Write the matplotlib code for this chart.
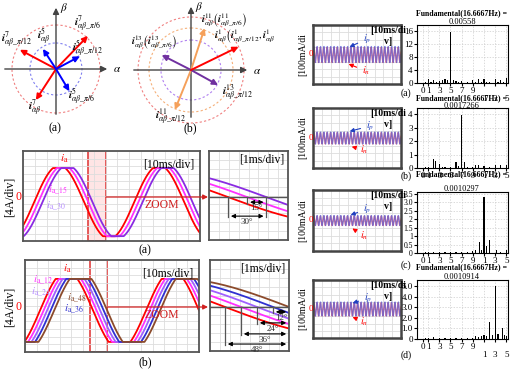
import numpy as np
import matplotlib
matplotlib.use("Agg")
import matplotlib.pyplot as plt
from matplotlib.patches import Circle, Rectangle

plt.rcParams['font.family'] = ['Liberation Serif', 'DejaVu Serif']
plt.rcParams['mathtext.fontset'] = 'stix'

W, H = 515, 372

# phasor diagram (a): angle (deg), length (px), colour
vec_a_ang = [46, 152, 237, 123, 28, -59]
vec_a_len = [46, 41, 37, 24, 27, 26]
vec_a_col = ['red', 'red', 'red', 'blue', 'blue', 'blue']
circ_a_r = [44, 26]
circ_a_col = ['#f08080', '#8080f0']

# phasor diagram (b)
vec_b_ang = [72, 248, 153, -29, 26]
vec_b_len = [44, 43, 33, 31, 53]
vec_b_col = ['#f5a05a', '#f5a05a', '#7030a0', '#7030a0', 'red']
circ_b_r = [53, 42, 30]
circ_b_col = ['#f08080', '#f5b07a', '#b080f0']

# time waveforms: phase lag (deg) of each current
shift_a = [0, 15, 30]
col_a = ['red', '#ff30ff', '#8a2be2']
shift_b = [0, 12, 24, 36, 48]
col_b = ['red', '#ff30ff', '#a060ff', '#3030d0', '#8b4a2b']

# ripple patterns of the right-hand traces (one cycle)
ripple_blue = [0.0, 0.8, 1.0, 0.5, -0.3, -0.9, -1.0, -0.4]
ripple_red = [0.3, 0.9, 0.8, 0.1, -0.6, -1.0, -0.7, 0.0]
ripple_amp = [8, 6, 5, 7]

# spectra (harmonic order, magnitude)
spec_x = [
    [0.5, 1, 1.5, 2, 2.5, 3, 3.5, 4, 4.5, 5, 5.5, 6, 6.5, 7, 8, 9, 9.5, 10, 10.5, 11, 11.5, 12, 13, 13.5, 14, 14.5, 15],
    [0.5, 1, 2, 2.3, 3, 3.5, 4, 5, 6, 6.5, 7, 7.5, 8, 9, 9.5, 10, 11, 12, 13, 14, 15],
    [0.5, 1, 2, 3, 4, 5, 6, 7, 8, 9, 9.5, 10.2, 10.6, 11, 11.5, 12, 13.2, 14, 15],
    [0.5, 1, 2, 3, 4, 5, 6, 7, 8, 9, 9.5, 10, 10.5, 11, 11.5, 12, 12.5, 13, 13.5, 14.3, 14.7, 15],
]
spec_h = [
    [0.3, 1.2, 0.4, 0.8, 0.3, 0.6, 0.9, 1.1, 0.9, 15.8, 1.0, 0.5, 0.3, 0.7, 0.2, 0.9, 0.3, 1.2, 0.2, 1.3, 0.4, 0.3, 1.3, 0.3, 0.8, 0.3, 1.4],
    [0.05, 0.05, 0.65, 0.5, 0.3, 0.1, 0.05, 0.05, 0.45, 0.15, 3.9, 0.45, 0.1, 0.05, 0.2, 0.25, 0.15, 0.1, 0.2, 0.2, 0.25],
    [0.05, 0.05, 0.05, 0.05, 0.05, 0.05, 0.05, 0.05, 0.05, 0.1, 0.2, 0.65, 0.2, 3.3, 0.4, 0.75, 0.15, 0.05, 0.15],
    [0.05, 0.05, 0.2, 0.05, 0.05, 0.1, 0.05, 0.05, 0.1, 0.05, 0.3, 0.2, 0.3, 0.4, 0.3, 1.6, 0.4, 5.0, 0.5, 1.0, 0.4, 0.3],
]
spec_ymax = [17.8, 4.45, 3.6, 5.6]
spec_yticks = [[0, 4, 8, 12, 16], [0, 1, 2, 3, 4], [0, 0.5, 1, 1.5, 2, 2.5, 3, 3.5], [0, 1, 2, 3, 4, 5]]
spec_ylabels = [['0', '4', '8', '12', '16'], ['0', '1', '2', '3', '4'],
                ['0', '0.5', '1', '1.5', '2', '2.5', '3.0', '3.5'], ['0', '1.0', '2.0', '3.0', '4.0', '5.0']]
fund_vals = ['0.00558', '0.0017266', '0.0010297', '0.0010914']
row_tags = ['(a)', '(b)', '(c)', '(d)']

fig = plt.figure(figsize=(W / 100, H / 100), dpi=100)


def box(x0, y0, x1, y1):
    return fig.add_axes([x0 / W, 1 - y1 / H, (x1 - x0) / W, (y1 - y0) / H])


def scope(ax, nx, ny, spine='#555555'):
    ax.set_xticks(np.linspace(*ax.get_xlim(), nx + 1))
    ax.set_yticks(np.linspace(*ax.get_ylim(), ny + 1))
    ax.grid(color='#dddddd', lw=0.6)
    ax.tick_params(length=0, labelleft=False, labelbottom=False)
    for s in ax.spines.values():
        s.set_color(spine)
        s.set_linewidth(1.3)


def waves(ax, th0, th1, shifts, cols, gain, offset, lw=1.3):
    th = np.linspace(th0, th1, 600)
    for s, c in zip(shifts, cols):
        y = offset + np.clip(gain * np.sin(np.radians(th - s)), -1, 1)
        ax.plot(th, y, color=c, lw=lw)
    ax.set_xlim(th0, th1)


# ---- left waveforms (a)
ax = box(23, 151, 200, 241)
waves(ax, -40, 597, shift_a, col_a, 1.08, -0.15)
ax.set_ylim(-1.29, 1.35)
scope(ax, 15, 12)
ax.add_patch(Rectangle(((88 - 23) / 177, 0), 18 / 177, 1, transform=ax.transAxes,
                       fc=(1, 0.6, 0.6, 0.25), ec='#e04040', lw=1.2))
ax.text(0.97, 0.92, '[10ms/div]', transform=ax.transAxes, ha='right', va='top', fontsize=8.5)

axz = box(209, 151, 288, 240)
waves(axz, 165, 227, shift_a, col_a, 1.0, 0.0)
axz.set_ylim(-1.6, 1.72)
scope(axz, 8, 10)
axz.axhline(0, color='#555555', lw=1)
for t, yb in zip([180, 195, 210], [-0.71, -0.19, -0.71]):
    axz.plot([t, t], [0, yb - 0.05], color='#555555', lw=0.9)
for t0, yb, lab in zip([195, 180], [-0.19, -0.71], ['15°', '30°']):
    axz.annotate('', xy=(210, yb), xytext=(t0, yb),
                 arrowprops=dict(arrowstyle='<|-|>', color='black', lw=0.8, mutation_scale=6))
    axz.text((t0 + 210) / 2, yb - 0.08, lab, ha='center', va='top', fontsize=6.5, color='#333333')
axz.text(0.95, 0.97, '[1ms/div]', transform=axz.transAxes, ha='right', va='top', fontsize=8.5)

# ---- left waveforms (b)
ax = box(25, 260, 199, 352)
waves(ax, -51, 540, shift_b, col_b, 1.25, -0.11)
ax.set_ylim(-1.43, 1.49)
scope(ax, 15, 12)
ax.add_patch(Rectangle(((90 - 25) / 174, 0), 17 / 174, 1, transform=ax.transAxes,
                       fc=(1, 1, 1, 0), ec='#e04040', lw=1.2))
ax.text(0.97, 0.92, '[10ms/div]', transform=ax.transAxes, ha='right', va='top', fontsize=8.5)

axz = box(210, 260, 289, 351)
waves(axz, 168.75, 228, shift_b, col_b, 1.0, 0.0)
axz.set_ylim(-1.52, 1.62)
scope(axz, 8, 10)
axz.axhline(0, color='#555555', lw=1)
arr_y = [-1.28, -0.93, -0.55, -0.17]
for t, yb in zip([180, 192, 204, 216, 228], arr_y + [-1.28]):
    axz.plot([t, t], [0, yb - 0.05], color='#555555', lw=0.9)
for t0, yb, lab in zip([180, 192, 204, 216], arr_y, ['48°', '36°', '24°', '12°']):
    axz.annotate('', xy=(228, yb), xytext=(t0, yb),
                 arrowprops=dict(arrowstyle='<|-|>', color='black', lw=0.8, mutation_scale=6))
    axz.text((t0 + 228) / 2, yb - 0.06, lab, ha='center', va='top', fontsize=6.5, color='#333333')
axz.text(0.95, 0.97, '[1ms/div]', transform=axz.transAxes, ha='right', va='top', fontsize=8.5)

# ---- right column
box_rows = [(25, 84), (108, 168), (190, 251), (280, 338)]
spec_rows = [(25, 83), (108, 168), (192, 253), (280, 339)]
title_y = [13, 98, 174, 267]
val_y = [22, 106, 189, 277]
for k in range(4):
    y0, y1 = box_rows[k]
    axw = box(313, y0, 401, y1)
    n = 26 * len(ripple_blue)
    t = np.arange(n + 1)
    yb = [ripple_amp[k] * ripple_blue[i % len(ripple_blue)] for i in range(n + 1)]
    yr = [ripple_amp[k] * ripple_red[i % len(ripple_red)] for i in range(n + 1)]
    axw.plot(t, yr, color='#ff5050', lw=0.9, alpha=0.8)
    axw.plot(t, yb, color='#5060e0', lw=0.9, alpha=0.7)
    axw.set_xlim(0, n)
    axw.set_ylim(-(y1 - y0) / 2, (y1 - y0) / 2)
    scope(axw, 10, 8, spine='#444444')
    for s in axw.spines.values():
        s.set_linewidth(1.8)

    s0, s1 = spec_rows[k]
    axs = box(417, s0, 508, s1)
    axs.bar(spec_x[k], spec_h[k], width=0.22, color='black')
    axs.set_xlim(-1, 15.3)
    axs.set_ylim(0, spec_ymax[k])
    axs.set_yticks(spec_yticks[k])
    axs.set_yticklabels(spec_ylabels[k], fontsize=6.5 if k != 2 else 5.5)
    axs.set_xticks([0, 1, 3, 5, 7, 9, 11, 13, 15])
    if k in (0, 3):
        axs.set_xticklabels(['0', '1', '3', '5', '7', '9', '\n1', '\n3', '\n5'], fontsize=6.5, linespacing=0.9)
    else:
        axs.set_xticklabels(['0', '1', '3', '5', '7', '9', '1', '3', '5'], fontsize=6.5)
    axs.tick_params(length=2, pad=1)
    axs.grid(color='#cccccc', lw=0.5, ls=(0, (2, 2)))
    axs.set_axisbelow(True)
    for s in axs.spines.values():
        s.set_linewidth(0.8)

ov = fig.add_axes([0, 0, 1, 1], zorder=10)
ov.set_xlim(0, W)
ov.set_ylim(H, 0)
ov.axis('off')
ov.patch.set_alpha(0)


def phasor(cx, cy, xl, xr, yb, yt, angs, lens, cols, radii, rcols):
    ov.annotate('', xy=(xr, cy), xytext=(xl, cy),
                arrowprops=dict(arrowstyle='-|>', color='#444444', lw=1, mutation_scale=9))
    ov.annotate('', xy=(cx, yt), xytext=(cx, yb),
                arrowprops=dict(arrowstyle='-|>', color='#444444', lw=1, mutation_scale=9))
    for r, c in zip(radii, rcols):
        ov.add_patch(Circle((cx, cy), r, fill=False, ec=c, lw=0.8, ls=(0, (2, 2))))
    for a, L, c in zip(angs, lens, cols):
        tip = (cx + L * np.cos(np.radians(a)), cy - L * np.sin(np.radians(a)))
        ov.annotate('', xy=tip, xytext=(cx, cy),
                    arrowprops=dict(arrowstyle='-|>', color=c, lw=1.4, mutation_scale=8, shrinkA=0, shrinkB=0))


def lab(sup, sub):
    return r'$\boldsymbol{i}^{%s}_{%s}$' % (sup, sub)


phasor(56, 69, 2, 110, 117, 5, vec_a_ang, vec_a_len, vec_a_col, circ_a_r, circ_a_col)
ov.text(113, 70, r'$\alpha$', fontsize=8, va='center')
ov.text(60, 8, r'$\beta$', fontsize=8, va='center')
fs = 8
ov.text(74, 24, lab('7', r'\alpha\beta\_\pi/6'), fontsize=fs, va='center')
ov.text(1, 40, lab('7', r'\alpha\beta\_\pi/12'), fontsize=fs, va='center')
ov.text(37, 37, lab('5', r'\alpha\beta'), fontsize=fs, va='center')
ov.text(72, 49, lab('5', r'\alpha\beta\_\pi/12'), fontsize=fs, va='center')
ov.text(68, 97, lab('5', r'\alpha\beta\_\pi/6'), fontsize=fs, va='center')
ov.text(28, 108, lab('7', r'\alpha\beta'), fontsize=fs, va='center')
ov.text(55, 128, '(a)', fontsize=8.5, ha='center', va='center')

phasor(191, 70, 131, 250, 120, 4, vec_b_ang, vec_b_len, vec_b_col, circ_b_r, circ_b_col)
ov.text(253, 71, r'$\alpha$', fontsize=8, va='center')
ov.text(195, 7, r'$\beta$', fontsize=8, va='center')
ov.text(201, 20, lab('11', r'\alpha\beta') + r'$\left(\boldsymbol{i}^{11}_{\alpha\beta\_\pi/6}\right)$', fontsize=7.5, va='center')
ov.text(131, 42, lab('13', r'\alpha\beta') + r'$\left(\boldsymbol{i}^{13}_{\alpha\beta\_\pi/6}\right)$', fontsize=7.5, va='center')
ov.text(214, 36, lab('1', r'\alpha\beta') + r'$\left(\boldsymbol{i}^{1}_{\alpha\beta\_\pi/12},\boldsymbol{i}^{1}_{\alpha\beta}\right.$', fontsize=7.5, va='center')
ov.text(222, 92, lab('13', r'\alpha\beta\_\pi/12'), fontsize=fs, va='center')
ov.text(155, 117, lab('11', r'\alpha\beta\_\pi/12'), fontsize=fs, va='center')
ov.text(190, 128, '(b)', fontsize=8.5, ha='center', va='center')

# left waveform decorations
for zy, tagy, x_box, tag in [(197, 250, 106, '(a)'), (307, 362, 107, '(b)')]:
    ov.text(10, zy, '[4A/div]', rotation=90, fontsize=8.5, ha='center', va='center')
    ov.text(19, zy, '0', color='red', fontsize=8.5, ha='center', va='center')
    ov.annotate('', xy=(208, zy), xytext=(x_box, zy),
                arrowprops=dict(arrowstyle='-|>', color='#d02020', lw=0.9, mutation_scale=7, shrinkA=0, shrinkB=0))
    ov.text(162, zy + 8, 'ZOOM', color='#d02020', fontsize=8.5, ha='center', va='center')
    ov.text(145, tagy, tag, fontsize=8.5, ha='center', va='center')

ov.text(60, 159, r'$i_{\rm a}$', color='red', fontsize=8, va='center')
ov.text(48, 190, r'$i_{\rm a\_15}$', color='#ff30ff', fontsize=8, va='center')
ov.text(46, 206, r'$i_{\rm a\_30}$', color='#b58cff', fontsize=8, va='center')
ov.text(63, 269, r'$i_{\rm a}$', color='red', fontsize=8, va='center')
ov.text(33, 280, r'$i_{\rm a\_12}$', color='#ff30ff', fontsize=8, va='center')
ov.text(31, 292, r'$i_{\rm a\_24}$', color='#b58cff', fontsize=8, va='center')
ov.text(67, 298, r'$i_{\rm a\_48}$', color='#8b4a2b', fontsize=8, va='center')
ov.text(64, 309, r'$i_{\rm a\_36}$', color='#3030d0', fontsize=8, va='center')

# right column decorations
blue_lab = [(363, 39), (366, 126), (363, 209), (364, 298)]
blue_tip = [(347, 48), (347, 132), (348, 216), (350, 304)]
red_lab = [(362, 71), (360, 150), (360, 236), (360, 322)]
red_tip = [(346, 63), (349, 146), (350, 227), (350, 316)]
for k in range(4):
    y0, y1 = box_rows[k]
    cy = (y0 + y1) / 2
    ov.text(303, cy, '[100mA/di', rotation=90, fontsize=7, ha='center', va='center')
    ov.text(311, cy, '0', color='red', fontsize=6.5, ha='center', va='center')
    ov.text(388, y0 + 1, '[10ms/di\nv]', fontsize=7, ha='center', va='top', linespacing=1.3, fontweight='bold')
    ov.annotate(r'$i_p$', xy=blue_tip[k], xytext=blue_lab[k], color='#2040c0', fontsize=7.5,
                ha='left', va='center', arrowprops=dict(arrowstyle='-|>', color='#2040c0', lw=0.8, mutation_scale=6))
    ov.annotate(r'$i_n$', xy=red_tip[k], xytext=red_lab[k], color='red', fontsize=7.5,
                ha='left', va='center', arrowprops=dict(arrowstyle='-|>', color='red', lw=0.8, mutation_scale=6))
    ov.text(462, title_y[k], 'Fundamental(16.6667Hz) =', fontsize=5.6, fontweight='bold', ha='center', va='center')
    ov.text(462, val_y[k], fund_vals[k], fontsize=6, ha='center', va='center')
    ov.text(406, [93, 176, 265, 355][k], row_tags[k], fontsize=7, ha='center', va='center')

fig.savefig('out.png', dpi=100)
